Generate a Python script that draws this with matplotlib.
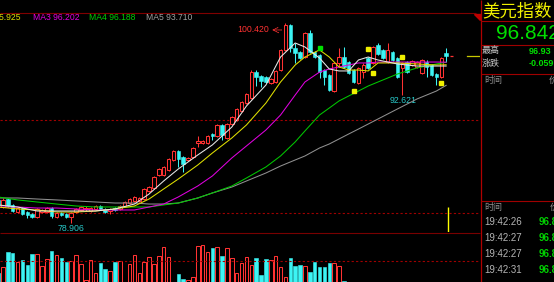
import matplotlib
matplotlib.use("Agg")
import matplotlib.pyplot as plt
from matplotlib.patches import Rectangle, Polygon

# daily candles (open, high, low, close), oldest first
opens = [81.38, 80.62, 81.48, 80.84, 80.08, 80.51, 80.08, 79.87, 79.54, 80.08,
         80.08, 80.51, 79.54, 79.98, 79.87, 79.54, 80.08, 80.30, 80.41, 80.19,
         80.41, 80.73, 80.41, 80.19, 80.51, 80.41, 80.73, 81.05, 81.27, 81.27,
         81.48, 82.34, 82.67, 84.06, 84.06, 84.60, 85.68, 86.65, 86.00, 85.68,
         86.00, 87.51, 87.51, 87.51, 88.48, 88.26, 89.45, 88.05, 89.55, 89.98,
         90.95, 91.81, 92.35, 95.14, 94.72, 94.61, 93.96, 94.07, 95.36, 97.52,
         100.21, 97.73, 97.30, 96.76, 99.34, 97.30, 96.98, 95.36, 94.82, 93.10,
         96.12, 96.76, 96.22, 95.36, 93.96, 95.14, 96.65, 96.12, 98.05, 97.52,
         96.22, 97.30, 96.65, 95.58, 96.22, 95.90, 95.69, 95.04, 96.22, 95.90,
         94.93, 94.61, 97.19]
highs = [81.50, 81.55, 81.60, 80.95, 80.65, 80.62, 80.19, 79.98, 80.52, 80.45,
         80.62, 80.62, 80.08, 80.08, 79.98, 80.08, 80.51, 80.73, 80.73, 80.62,
         80.84, 80.84, 80.51, 80.51, 80.62, 80.84, 81.27, 81.59, 81.81, 81.70,
         82.67, 82.88, 83.96, 84.82, 85.04, 85.90, 86.76, 86.76, 86.11, 86.00,
         87.08, 88.26, 87.83, 88.37, 88.58, 89.55, 89.55, 89.66, 90.41, 91.28,
         92.03, 92.89, 95.36, 95.36, 94.82, 94.72, 94.50, 95.36, 97.62, 100.42,
         100.31, 98.27, 97.41, 99.45, 99.67, 97.41, 97.09, 95.47, 94.93, 96.22,
         97.73, 97.84, 96.33, 95.47, 95.69, 96.12, 96.76, 97.95, 98.27, 97.62,
         98.27, 97.41, 96.76, 96.22, 96.33, 96.44, 96.33, 96.55, 96.44, 96.01,
         95.04, 96.76, 97.73]
lows = [80.70, 80.50, 80.62, 80.08, 79.98, 79.76, 79.44, 79.44, 79.44, 79.98,
        79.98, 79.44, 79.44, 79.65, 79.44, 78.906, 79.98, 80.19, 80.19, 80.08,
        80.30, 80.30, 79.98, 79.87, 80.19, 80.30, 80.62, 80.95, 81.16, 81.16,
        81.38, 82.24, 82.56, 83.96, 83.96, 84.50, 85.57, 84.93, 84.39, 85.57,
        85.90, 87.08, 87.40, 87.40, 87.83, 88.15, 87.83, 87.94, 89.45, 89.88,
        90.84, 91.70, 92.24, 93.64, 93.53, 93.96, 93.86, 93.96, 95.25, 97.41,
        97.30, 96.12, 96.55, 96.65, 97.19, 96.65, 94.50, 93.75, 93.10, 93.00,
        95.69, 95.58, 94.93, 93.96, 93.86, 94.50, 95.47, 96.01, 96.98, 96.55,
        96.12, 96.33, 94.50, 92.621, 95.04, 95.79, 95.58, 94.93, 94.61, 94.72,
        93.75, 94.50, 96.22]
closes = [80.84, 81.38, 80.73, 80.19, 80.51, 79.87, 79.76, 79.54, 80.41, 80.30,
          80.51, 79.65, 79.98, 79.76, 79.54, 79.98, 80.41, 80.62, 80.51, 80.51,
          80.73, 80.41, 80.08, 80.41, 80.30, 80.73, 81.16, 81.48, 81.70, 81.59,
          82.56, 82.77, 83.85, 84.71, 84.93, 85.79, 86.65, 85.79, 85.25, 85.90,
          86.97, 87.72, 87.72, 88.26, 88.26, 89.45, 88.37, 89.55, 90.31, 91.17,
          91.92, 92.78, 95.14, 94.61, 94.18, 94.07, 94.39, 95.25, 97.52, 100.21,
          97.73, 97.19, 96.65, 99.34, 97.30, 96.76, 95.14, 94.61, 93.21, 96.12,
          96.76, 95.69, 95.04, 94.07, 95.58, 95.90, 95.58, 97.84, 97.09, 96.65,
          97.52, 96.44, 94.61, 96.12, 95.14, 96.33, 96.22, 96.44, 95.69, 94.82,
          94.61, 96.65, 96.842]
volumes = [8.7, 14.7, 29.7, 28.7, 19.7, 22.0, 16.7, 27.7, 27.7, 15.7,
           23.3, 31.0, 27.3, 23.7, 20.0, 21.0, 26.7, 17.7, 2.0, 22.0,
           8.7, 19.3, 13.0, 11.3, 20.0, 21.0, 0.5, 17.7, 26.7, 9.3,
           20.0, 24.7, 17.7, 26.0, 35.3, 24.7, 0.5, 8.0, 3.0, 2.0,
           5.3, 36.0, 36.7, 29.7, 33.7, 35.3, 26.0, 33.7, 23.7, 8.7,
           18.7, 24.7, 16.7, 23.7, 7.0, 23.0, 21.7, 26.0, 15.3, 5.3,
           24.0, 16.0, 16.7, 15.7, 10.0, 20.0, 15.3, 15.3, 19.3, 19.3,
           15.7, 1.0]

# moving averages, read at these candle positions
ma_idx = [0, 4, 8, 12, 16, 20, 24, 28, 31, 34, 37, 41, 44, 48, 51,
          55, 58, 61, 63, 66, 68, 70, 72, 74, 76, 78, 82, 86, 90, 92]
ma1 = [80.84, 80.62, 80.19, 80.19, 80.19, 80.19, 80.41, 80.94, 82.02, 83.42,
       84.71, 86.22, 87.30, 89.23, 91.49, 93.75, 96.76, 98.27, 97.84, 96.65,
       95.47, 95.26, 95.26, 96.44, 96.76, 96.44, 96.01, 95.79, 95.79, 95.79]
ma2 = [80.62, 80.41, 80.30, 80.08, 80.08, 80.19, 80.41, 80.73, 81.48, 82.56,
       83.63, 85.14, 86.43, 88.05, 89.45, 91.81, 94.07, 95.90, 96.76, 97.52,
       96.76, 95.69, 95.36, 95.36, 95.26, 96.12, 96.12, 96.01, 95.90, 95.925]
ma3 = [80.62, 80.62, 80.51, 80.51, 80.41, 80.30, 80.30, 80.30, 80.62, 80.94,
       81.70, 82.88, 83.96, 85.90, 87.19, 88.91, 90.52, 92.67, 94.07, 95.14,
       95.47, 95.69, 95.90, 96.12, 96.12, 96.22, 96.22, 96.22, 96.22, 96.202]
ma4 = [81.70, 81.38, 81.16, 80.94, 80.73, 80.62, 80.62, 80.62, 80.62, 80.84,
       81.05, 81.59, 82.13, 82.88, 83.74, 84.93, 86.11, 87.62, 88.80, 90.52,
       91.27, 92.03, 92.57, 93.10, 93.64, 94.07, 94.93, 95.58, 96.01, 96.188]
ma5 = [81.59, 81.59, 81.48, 81.38, 81.27, 81.16, 81.05, 81.05, 80.94, 80.94,
       81.05, 81.59, 82.13, 82.77, 83.42, 84.28, 85.03, 85.68, 86.11, 86.97,
       87.40, 87.94, 88.48, 89.01, 89.55, 90.09, 91.17, 92.24, 93.10, 93.71]

# signal marks
sig_idx = [73, 76, 77, 83, 91]
sig_val = [93.10, 97.62, 95.04, 96.76, 93.96]
green_idx = [66]
green_val = [97.73]

# right panel texts
name = "美元指数"
last_price = "96.842"
day_high = "96.93"
change = "-0.059"
tick_times = ["19:42:26", "19:42:27", "19:42:27", "19:42:31"]
tick_prices = ["96.84", "96.84", "96.84", "96.84"]

RED = "#ff3232"
CYAN = "#3cf4f4"
DKRED = "#a00000"
NUM = "Liberation Sans"
CJK = ["Noto Sans CJK SC", "DejaVu Sans"]

W, H = 554, 282
fig = plt.figure(figsize=(W / 100, H / 100), dpi=100, facecolor="black")

# candle i sits at pixel x = -1.9 + 4.87 * i
def px2i(px):
    return (px + 1.9) / 4.87

ax = fig.add_axes([0, 50 / H, 480 / W, 219 / H])
axv = fig.add_axes([0, 0, 480 / W, 50 / H])
for a in (ax, axv):
    a.set_facecolor("black")
    a.set_xlim(px2i(0), px2i(480))
    a.axis("off")
ax.set_ylim(77.93, 101.496)
axv.set_ylim(0, 50)

w = 0.72
for i in range(len(opens)):
    o, h, l, c = opens[i], highs[i], lows[i], closes[i]
    top, bot = max(o, c), min(o, c)
    body = max(top - bot, 0.06)
    if c >= o:
        ax.vlines(i, top, h, color=RED, lw=0.75, zorder=2)
        ax.vlines(i, l, bot, color=RED, lw=0.75, zorder=2)
        ax.add_patch(Rectangle((i - w / 2, bot), w, body, fc="black",
                               ec=RED, lw=0.75, zorder=3))
    else:
        ax.vlines(i, l, h, color=CYAN, lw=0.75, zorder=2)
        ax.add_patch(Rectangle((i - w / 2, bot), w, body, fc=CYAN,
                               ec=CYAN, lw=0.4, zorder=3))

for i, v in enumerate(volumes):
    if closes[i] >= opens[i]:
        axv.add_patch(Rectangle((i - w / 2, -1), w, v + 1, fc="black", ec=RED, lw=0.75))
    else:
        axv.add_patch(Rectangle((i - w / 2, -1), w, v + 1, fc=CYAN, ec=CYAN, lw=0.4))

ma_colors = ["#e8e8e8", "#e0e000", "#e000e0", "#00c800", "#909090"]
for vals, col in zip([ma5, ma4, ma3, ma2, ma1], ma_colors[::-1]):
    ax.plot(ma_idx, vals, color=col, lw=0.75, zorder=4)

ax.plot(sig_idx, sig_val, "s", color="#f0f000", ms=3.2, zorder=5)
ax.plot(green_idx, green_val, "s", color="#00e000", ms=3.2, zorder=5)

# grid levels
for lvl in (90, 80):
    ax.axhline(lvl, color=DKRED, lw=0.8, ls=(0, (2, 2)), zorder=1)
axv.axhline(21, color=DKRED, lw=0.8, ls=(0, (2, 2)))

# last price marks
last = closes[-1]
ax.hlines(last, len(closes) - 0.3, len(closes) + 0.4, color=RED, lw=0.9)
ax.axhline(last, xmin=467 / 480, xmax=1, color="#c8c800", lw=0.9)
ax.vlines(px2i(448), 77.93, 80.6, color="#ffff00", lw=1.0)

# high / low labels
hi_i = highs.index(max(highs))
ax.annotate("", xy=(hi_i - 3.3, 99.67), xytext=(hi_i - 0.2, 99.67),
            arrowprops=dict(arrowstyle="->", color=RED, lw=0.6, ls=(0, (1.5, 1))))
ax.text(hi_i - 3.4, 99.67, f"{max(highs):.3f}", color=RED, fontsize=6.3,
        family=NUM, ha="right", va="center")
ax.text(80.3, lows[83] - 0.55, f"{lows[83]:.3f}", color="#28c8c8",
        fontsize=6.3, family=NUM, ha="left", va="center")
ax.text(12.2, lows[15] - 0.6, f"{lows[15]:.3f}", color="#28c8c8",
        fontsize=6.3, family=NUM, ha="left", va="center")

# overlay in pixel coordinates for frame and panel
ov = fig.add_axes([0, 0, 1, 1])
ov.set_xlim(0, W)
ov.set_ylim(H, 0)
ov.axis("off")
ov.patch.set_alpha(0)

ov.hlines(13, 0, 476, color="#800000", lw=0.8)
ov.hlines(232.5, 0, 480, color="#780000", lw=0.8)
ov.vlines(480.5, 0, H, color="#b00000", lw=0.9)
for yy in (21, 44.5, 73.5, 201):
    ov.hlines(yy, 480.5, W, color="#a00000", lw=0.8)
ov.add_patch(Polygon([[474, 13.5], [480, 13.5], [480, 19.5]], color="#c00000"))

legend = [("MA2 95.925", "#e0e000", 20, "right"),
          ("MA3 96.202", "#e000e0", 33, "left"),
          ("MA4 96.188", "#00d000", 89, "left"),
          ("MA5 93.710", "#a0a0a0", 146, "left")]
for txt, col, xx, ha in legend:
    ov.text(xx, 18, txt, color=col, fontsize=6.2, family=NUM, ha=ha, va="center")

ov.text(482, 11.5, name, color="#f0f000", fontsize=12.5, family=CJK,
        ha="left", va="center")
ov.text(496, 33.5, last_price, color="#00e000", fontsize=15, family=NUM,
        ha="left", va="center")
ov.text(482, 51, "最高", color="#c8c8c8", fontsize=6.5, family=CJK, va="center")
ov.text(482, 63.5, "涨跌", color="#c8c8c8", fontsize=6.5, family=CJK, va="center")
ov.text(529, 51, day_high, color="#00e000", fontsize=6.5, family=NUM,
        weight="bold", va="center")
ov.text(529, 63.5, change, color="#00e000", fontsize=6.5, family=NUM,
        weight="bold", va="center")
ov.text(484, 80, "时间", color="#909090", fontsize=6.5, family=CJK, va="center")
ov.text(549, 80, "价", color="#909090", fontsize=6.5, family=CJK, va="center")
ov.text(484, 207.5, "时间", color="#909090", fontsize=6.5, family=CJK, va="center")
ov.text(550, 207.5, "价", color="#909090", fontsize=6.5, family=CJK, va="center")
for k, (t, p) in enumerate(zip(tick_times, tick_prices)):
    yy = 222 + 16 * k
    ov.text(484, yy, t, color="#b4b4b4", fontsize=7, family=NUM, va="center")
    ov.text(539, yy, p, color="#00d000", fontsize=7, family=NUM,
            weight="bold", va="center")

fig.savefig("out.png", dpi=100, facecolor="black")
